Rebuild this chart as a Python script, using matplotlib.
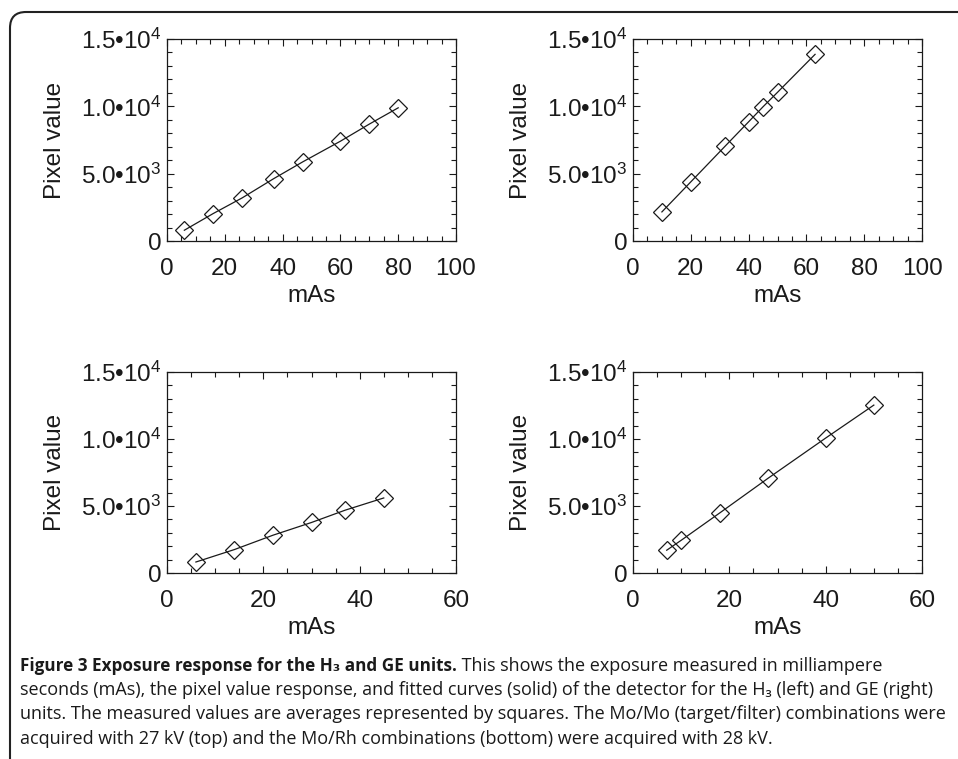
import matplotlib
matplotlib.use('Agg')
import matplotlib.pyplot as plt
from matplotlib.patches import FancyBboxPatch
from matplotlib.ticker import MultipleLocator
from matplotlib.transforms import IdentityTransform

plt.rcParams['font.family'] = ['Liberation Sans', 'DejaVu Sans']
plt.rcParams['mathtext.fontset'] = 'custom'
plt.rcParams['mathtext.rm'] = 'Liberation Sans'
plt.rcParams['mathtext.it'] = 'Liberation Sans:italic'
plt.rcParams['mathtext.bf'] = 'Liberation Sans:bold'

# H3, Mo/Mo 27 kV (top left)
h3_top_mas = [6, 16, 26, 37, 47, 60, 70, 80]
h3_top_pix = [800, 2040, 3200, 4640, 5880, 7410, 8680, 9890]
# GE, Mo/Mo 27 kV (top right)
ge_top_mas = [10, 20, 32, 40, 45, 50, 63]
ge_top_pix = [2160, 4390, 7070, 8850, 9970, 11040, 13860]
# H3, Mo/Rh 28 kV (bottom left)
h3_bot_mas = [6, 14, 22, 30, 37, 45]
h3_bot_pix = [820, 1750, 2820, 3770, 4690, 5600]
# GE, Mo/Rh 28 kV (bottom right)
ge_bot_mas = [7, 10, 18, 28, 40, 50]
ge_bot_pix = [1700, 2440, 4480, 7060, 10070, 12530]

y_ticks = [0, 5000, 10000, 15000]
y_ticklabels = ['0', '5.0\u202210$^3$', '1.0\u202210$^4$', '1.5\u202210$^4$']

W, H = 958, 759
fig = plt.figure(figsize=(W / 100, H / 100), dpi=100)

def px_axes(left, top, right, bottom):
    return fig.add_axes([left / W, 1 - bottom / H, (right - left) / W, (bottom - top) / H])

panels = [
    (px_axes(167, 39, 456, 241), h3_top_mas, h3_top_pix, 100),
    (px_axes(633, 39, 922, 241), ge_top_mas, ge_top_pix, 100),
    (px_axes(167, 372, 456, 573), h3_bot_mas, h3_bot_pix, 60),
    (px_axes(633, 372, 922, 573), ge_bot_mas, ge_bot_pix, 60),
]

ink = '#1a1a1a'
for ax, x, y, xmax in panels:
    ax.plot(x, y, color=ink, lw=0.9)
    ax.plot(x, y, linestyle='none', marker='D', ms=9, mfc='none', mec=ink, mew=0.9)
    ax.set_xlim(0, xmax)
    ax.set_ylim(0, 15000)
    ax.xaxis.set_major_locator(MultipleLocator(20))
    ax.xaxis.set_minor_locator(MultipleLocator(5))
    ax.set_yticks(y_ticks)
    ax.set_yticklabels(y_ticklabels)
    ax.yaxis.set_minor_locator(MultipleLocator(1000))
    ax.tick_params(which='both', direction='in', top=True, right=True, labelsize=17.5,
                   colors=ink)
    ax.tick_params(axis='x', which='major', pad=12)
    ax.tick_params(axis='y', which='major', pad=4)
    ax.tick_params(which='major', length=5, width=0.8)
    ax.tick_params(which='minor', length=3.5, width=0.8)
    for s in ax.spines.values():
        s.set_linewidth(0.9)
        s.set_color(ink)
    ax.set_xlabel('mAs', fontsize=17.5, labelpad=4, color=ink)
    ax.set_ylabel('Pixel value', fontsize=17.5, labelpad=11, color=ink)

# rounded border around the figure
border = FancyBboxPatch((10, -60), 1100, H - 12 + 60, boxstyle='round,pad=0,rounding_size=16',
                        transform=IdentityTransform(), fill=False, ec='#222222', lw=1.5)
fig.patches.append(border)

# caption
cap_font = ['Open Sans', 'DejaVu Sans']
renderer = fig.canvas.get_renderer()
caption_lines = [
    'seconds (mAs), the pixel value response, and fitted curves (solid) of the detector for the H\u2083 (left) and GE (right)',
    'units. The measured values are averages represented by squares. The Mo/Mo (target/filter) combinations were',
    'acquired with 27 kV (top) and the Mo/Rh combinations (bottom) were acquired with 28 kV.',
]
# size the caption so the widest line fills the frame like the original
probe = fig.text(0, 0, caption_lines[0], fontsize=10, family=cap_font)
fs = 10 * 915 / probe.get_window_extent(renderer).width
probe.remove()

x0 = 20 / W
t = fig.text(x0, 1 - 666 / H, 'Figure 3 Exposure response for the H\u2083 and GE units.',
             fontsize=fs * 0.95, fontweight='bold', va='center', color=ink, family=cap_font)
bb = t.get_window_extent(renderer)
fig.text(bb.x1 / W, 1 - 666 / H, ' This shows the exposure measured in milliampere',
         fontsize=fs, va='center', color=ink, family=cap_font)
for i, line in enumerate(caption_lines):
    fig.text(x0, 1 - (690 + 24.3 * i) / H, line, fontsize=fs, va='center', color=ink,
             family=cap_font)

fig.savefig('out.png', dpi=100)
